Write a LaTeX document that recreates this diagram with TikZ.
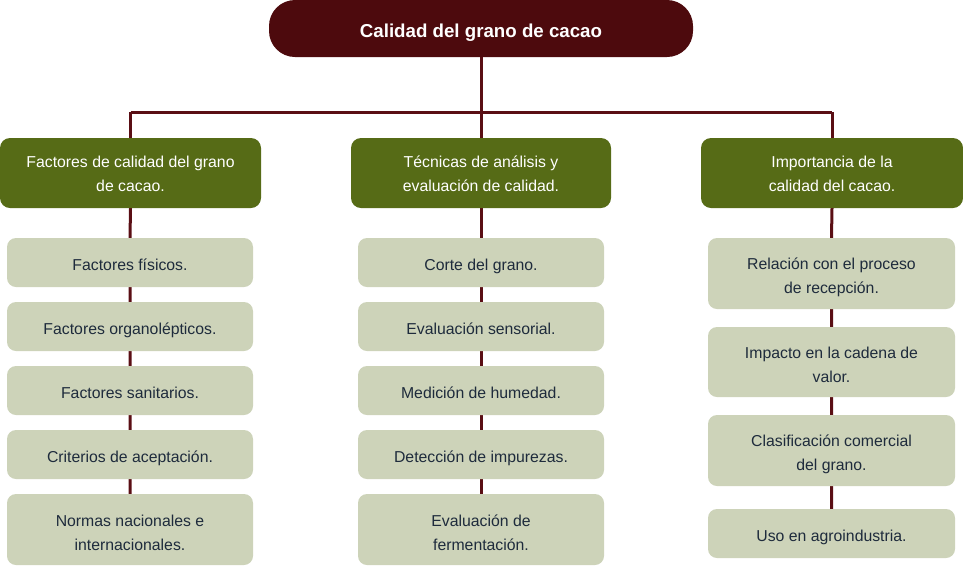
\documentclass[tikz,border=0pt]{standalone}
\usepackage{fontspec}
\setmainfont{Liberation Sans}
\usetikzlibrary{backgrounds}
\definecolor{rootc}{HTML}{4D0A0D}
\definecolor{catc}{HTML}{566B16}
\definecolor{itemc}{HTML}{CDD3B9}
\definecolor{txtc}{HTML}{1E2B3C}
\definecolor{linec}{HTML}{5A0E14}
\tikzset{
  rootbox/.style={fill=rootc, rounded corners=26pt, inner sep=0pt, text=white, font=\fontsize{18.7}{22}\selectfont\bfseries},
  catbox/.style={fill=catc, rounded corners=10pt, inner sep=0pt, text=white, font=\fontsize{15.8}{24}\selectfont},
  itembox/.style={fill=itemc, rounded corners=9pt, inner sep=0pt, text=txtc, font=\fontsize{15.8}{24}\selectfont},
  conn/.style={draw=linec, line width=3pt},
}
\newcommand{\mybox}[8][2.7pt]{% [drop] style, name, x1, y1, x2, y2, text
  \node[#2, minimum width={#6-#4}, minimum height={#7-#5}] (#3) at ({(#4+#6)/2},{(#5+#7)/2})
    {\raisebox{0pt}[\dimexpr\height+#1+#1\relax][\depth]{\begin{tabular}[b]{@{}c@{}}#8\end{tabular}}};}
\begin{document}
\begin{tikzpicture}[x=1pt,y=-1pt]
\useasboundingbox (0,0) rectangle (963,566);
\mybox[4.8pt]{rootbox}{root}{269}{0}{693}{57}{Calidad del grano de cacao}
\mybox[1.3pt]{catbox}{c1}{0}{138}{261}{208}{Factores de calidad del grano\\de cacao.}
\mybox[1.3pt]{catbox}{c2}{351}{138}{611}{208}{Técnicas de análisis y\\evaluación de calidad.}
\mybox[1.3pt]{catbox}{c3}{701}{138}{963}{208}{Importancia de la\\calidad del cacao.}
% left column
\mybox{itembox}{a1}{7}{238}{253}{287}{Factores físicos.}
\mybox{itembox}{a2}{7}{302}{253}{351}{Factores organolépticos.}
\mybox{itembox}{a3}{7}{366}{253}{415}{Factores sanitarios.}
\mybox{itembox}{a4}{7}{430}{253}{479}{Criterios de aceptación.}
\mybox[4pt]{itembox}{a5}{7}{494}{253}{565}{Normas nacionales e\\internacionales.}
% middle column
\mybox{itembox}{b1}{358}{238}{604}{287}{Corte del grano.}
\mybox{itembox}{b2}{358}{302}{604}{351}{Evaluación sensorial.}
\mybox{itembox}{b3}{358}{366}{604}{415}{Medición de humedad.}
\mybox{itembox}{b4}{358}{430}{604}{479}{Detección de impurezas.}
\mybox[4pt]{itembox}{b5}{358}{494}{604}{565}{Evaluación de\\fermentación.}
% right column
\mybox[3.4pt]{itembox}{d1}{708}{238}{955}{309}{Relación con el proceso\\de recepción.}
\mybox[3.4pt]{itembox}{d2}{708}{327}{955}{397}{Impacto en la cadena de\\valor.}
\mybox[3.4pt]{itembox}{d3}{708}{415}{955}{486}{Clasificación comercial\\del grano.}
\mybox{itembox}{d4}{708}{509}{955}{558}{Uso en agroindustria.}
\coordinate (hub) at (root.south |- 0,112);
\coordinate (hl) at (c1.north |- 0,112);
\coordinate (hr) at (c3.north |- 0,112);
\begin{scope}[on background layer]
\draw[conn] (root.south) -- (hub);
\draw[conn] (hl) -- (hr);
\draw[conn] (hl) -- (c1.north);
\draw[conn] (hub) -- (c2.north);
\draw[conn] (hr) -- (c3.north);
\draw[conn] (c1.south) -- (a1.north) (a1.south) -- (a2.north) (a2.south) -- (a3.north) (a3.south) -- (a4.north) (a4.south) -- (a5.north);
\draw[conn] (c2.south) -- (b1.north) (b1.south) -- (b2.north) (b2.south) -- (b3.north) (b3.south) -- (b4.north) (b4.south) -- (b5.north);
\draw[conn] (c3.south) -- (d1.north) (d1.south) -- (d2.north) (d2.south) -- (d3.north) (d3.south) -- (d4.north);
\end{scope}
\end{tikzpicture}
\end{document}
